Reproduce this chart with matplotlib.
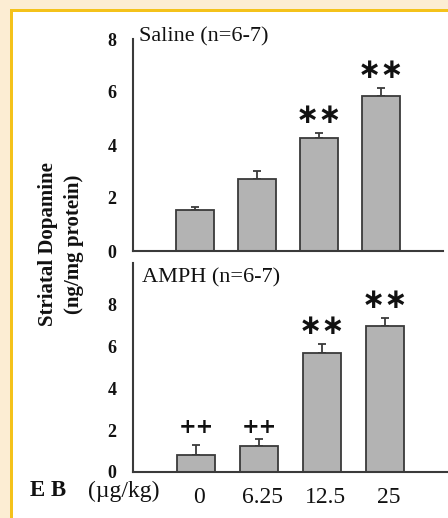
import matplotlib
matplotlib.use("Agg")
import matplotlib.pyplot as plt
from matplotlib.patches import Rectangle

# ---- data ----
doses = ["0", "6.25", "12.5", "25"]
saline_mean = [1.55, 2.72, 4.26, 5.85]
saline_err = [0.11, 0.30, 0.19, 0.30]
saline_marks = ["", "", "**", "**"]
amph_mean = [0.81, 1.24, 5.71, 7.00]
amph_err = [0.48, 0.33, 0.43, 0.38]
amph_marks = ["++", "++", "**", "**"]
saline_title = "Saline (n=6-7)"
amph_title = "AMPH (n=6-7)"
ylabel = "Striatal Dopamine\n(ng/mg protein)"
xlabel_drug = "E B"
xlabel_unit = "(\u00b5g/kg)"
saline_yticks = [0, 2, 4, 6, 8]
amph_yticks = [0, 2, 4, 6, 8]

W, H = 448, 518
fig = plt.figure(figsize=(W / 100, H / 100), dpi=100)
fig.patch.set_facecolor("white")

# frame
fig.patches.append(Rectangle((0, 0), 1, 1, transform=fig.transFigure,
                             facecolor="#FCEDD3", edgecolor="none", zorder=-3))
fig.patches.append(Rectangle((10 / W, 0), 1, 1 - 9 / H, transform=fig.transFigure,
                             facecolor="#F4C21B", edgecolor="none", zorder=-2))
fig.patches.append(Rectangle((13 / W, 0), 1, 1 - 11.5 / H, transform=fig.transFigure,
                             facecolor="white", edgecolor="none", zorder=-1))

serif = "Liberation Serif"
axcol = "#3a3a3a"
barcol = "#b3b3b3"
txtcol = "#111111"


def panel(rect, means, errs, marks, title, title_pos, ylim, yticks):
    ax = fig.add_axes(rect)
    ax.set_facecolor("none")
    x = list(range(1, len(means) + 1))
    ax.bar(x, means, width=0.6, color=barcol, edgecolor=axcol, linewidth=1.3, zorder=2)
    ax.errorbar(x, means, yerr=[[0] * len(errs), errs], fmt="none",
                ecolor=axcol, elinewidth=1.3, capsize=2.8, capthick=1.3, zorder=1)
    tops = [m + e for m, e in zip(means, errs)]
    plus_top = max([t for t, s in zip(tops, marks) if s == "++"], default=0)
    for xi, t, s in zip(x, tops, marks):
        if s == "**":
            ax.annotate("\u2217\u2217", (xi, t), xytext=(0, 13), textcoords="offset points",
                        ha="center", va="center", fontsize=20, fontweight="bold",
                        family="DejaVu Sans", color=txtcol)
        elif s == "++":
            ax.annotate("++", (xi, plus_top), xytext=(0, 9), textcoords="offset points",
                        ha="center", va="center", fontsize=15, fontweight="bold",
                        family="DejaVu Sans", color=txtcol)
    ax.set_xlim(0, 5)
    ax.set_ylim(*ylim)
    ax.set_yticks(yticks)
    ax.set_xticks([])
    for s in ["top", "right"]:
        ax.spines[s].set_visible(False)
    for s in ["left", "bottom"]:
        ax.spines[s].set_color(axcol)
        ax.spines[s].set_linewidth(1.5)
    ax.tick_params(axis="y", length=0, pad=12, labelsize=13, colors=txtcol)
    for lab in ax.get_yticklabels():
        lab.set_family(serif)
        lab.set_fontweight("bold")
    ax.text(title_pos[0], title_pos[1], title, transform=ax.transAxes, ha="left",
            va="center", fontsize=16, family=serif, color=txtcol)
    return ax


ax1 = panel([133 / W, 1 - 251 / H, 310 / W, 212 / H], saline_mean, saline_err,
            saline_marks, saline_title, (0.02, 1.01), (0, 8), saline_yticks)

ax2 = panel([133 / W, 1 - 472 / H, 315 / W, 209 / H], amph_mean, amph_err,
            amph_marks, amph_title, (0.03, 0.93), (0, 10), amph_yticks)

# x tick labels for bottom panel
for i, d in enumerate(doses):
    ax2.annotate(d, (i + 1, 0), xytext=(2.5, -11), textcoords="offset points",
                 ha="center", va="top", fontsize=17, family=serif, color=txtcol)
fig.text(30 / W, 1 - 491 / H, xlabel_drug, ha="left", va="center", fontsize=16.5,
         family=serif, fontweight="bold", color=txtcol)
fig.text(88 / W, 1 - 491 / H, xlabel_unit, ha="left", va="center", fontsize=17,
         family=serif, color=txtcol)

fig.text(61 / W, 1 - 244 / H, ylabel, ha="center", va="center", rotation=90,
         fontsize=15, family=serif, fontweight="bold", color=txtcol,
         linespacing=1.4, multialignment="center")

fig.savefig("out.png", dpi=100)
